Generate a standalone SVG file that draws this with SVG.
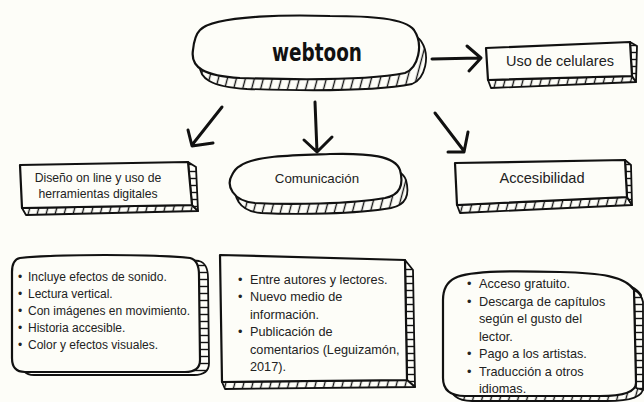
<svg xmlns="http://www.w3.org/2000/svg" width="644" height="402" viewBox="0 0 644 402">
<defs>
<pattern id="hv" width="9" height="20" patternUnits="userSpaceOnUse" patternTransform="skewX(-15)"><rect width="9" height="20" fill="#fdfdf8"/><line x1="4.5" y1="0" x2="4.5" y2="20" stroke="#111" stroke-width="1.4"/></pattern>
<pattern id="hh" width="20" height="7" patternUnits="userSpaceOnUse"><rect width="20" height="7" fill="#fdfdf8"/><line x1="0" y1="3.5" x2="20" y2="3.5" stroke="#111" stroke-width="1.4"/></pattern>
</defs>
<style>
.f{fill:#fdfdf8;stroke:#111;stroke-width:2.2;stroke-linejoin:round}
.bv{fill:url(#hv);stroke:#111;stroke-width:1.8;stroke-linejoin:round}
.bh{fill:url(#hh);stroke:#111;stroke-width:1.8;stroke-linejoin:round}
.t{font-family:"Liberation Sans",Arial,sans-serif;fill:#222}
.a{fill:none;stroke:#111;stroke-width:3;stroke-linecap:round;stroke-linejoin:round}
</style>
<rect width="644" height="402" fill="#fdfdf8"/>

<g id="connectors">
<path class="a" d="M432,59 L479,58 M467,46 L481,58 L469,71"/>
<path class="a" d="M222,107 L192,145 M188,130 L192,146 L213,143"/>
<path class="a" d="M315,102 L317,152 M304,140 L317,152 L332,137"/>
<path class="a" d="M435,113 L464,151 M448,152 L464,152 L468,132"/>
</g>

<g id="webtoon">
<path class="bv" transform="translate(7,11)" d="M200,30 C215,14 300,15 330,16 C370,16 405,18 414,30 C424,45 418,68 405,73 C370,80 300,80 240,78 C205,76 190,68 193,50 C194,40 196,34 200,30 Z"/>
<path class="f" stroke-width="3" d="M200,30 C215,14 300,15 330,16 C370,16 405,18 414,30 C424,45 418,68 405,73 C370,80 300,80 240,78 C205,76 190,68 193,50 C194,40 196,34 200,30 Z"/>
<text x="317" y="61" text-anchor="middle" textLength="90" lengthAdjust="spacingAndGlyphs" style="font-family:'DejaVu Sans Condensed','DejaVu Sans',sans-serif;font-weight:bold;font-size:25px;fill:#111">webtoon</text>
</g>

<g id="uso">
<path class="bv" d="M488,80 L632,76 L636,82 L491,88 Z"/>
<path class="bh" d="M630,42 L637,46 L636,82 L632,76 Z"/>
<path class="f" d="M486,48 L630,42 L632,76 L488,80 Z"/>
<text class="t" x="560" y="66" text-anchor="middle" font-size="14.5">Uso de celulares</text>
</g>

<g id="diseno">
<path class="bv" d="M22,208 L192,205 L198,211 L26,215 Z"/>
<path class="bh" d="M188,162 L196,167 L198,211 L192,205 Z"/>
<path class="f" d="M20,165 L188,162 L192,205 L22,208 Z"/>
<text class="t" x="98" y="181.5" text-anchor="middle" font-size="12.2">Diseño on line y uso de</text>
<text class="t" x="98" y="198" text-anchor="middle" font-size="12.2">herramientas digitales</text>
</g>

<g id="comunicacion">
<path class="bv" transform="translate(6,10)" d="M240,166 C255,155 300,155 330,154 C370,153 395,156 400,170 C404,185 400,195 385,198 C350,204 290,205 255,203 C232,201 226,185 232,175 C234,171 236,168 240,166 Z"/>
<path class="f" stroke-width="2.6" d="M240,166 C255,155 300,155 330,154 C370,153 395,156 400,170 C404,185 400,195 385,198 C350,204 290,205 255,203 C232,201 226,185 232,175 C234,171 236,168 240,166 Z"/>
<text class="t" x="317" y="183" text-anchor="middle" font-size="13.3">Comunicación</text>
</g>

<g id="accesibilidad">
<path class="bv" d="M457,205 L627,197 L632,205 L460,213 Z"/>
<path class="bh" d="M625,160 L631,165 L632,205 L627,197 Z"/>
<path class="f" d="M455,163 L625,160 L627,197 L457,205 Z"/>
<text class="t" x="542" y="183" text-anchor="middle" font-size="14.6">Accesibilidad</text>
</g>

<g id="lista1">
<path class="bh" transform="translate(9,3)" d="M20,258 C60,254 150,254 190,258 C198,260 199,268 199,275 L200,360 C200,368 195,372 185,372 L25,372 C15,372 12,366 12,358 L12,272 C12,264 15,259 20,258 Z"/>
<path class="f" d="M20,258 C60,254 150,254 190,258 C198,260 199,268 199,275 L200,360 C200,368 195,372 185,372 L25,372 C15,372 12,366 12,358 L12,272 C12,264 15,259 20,258 Z"/>
<g class="t" font-size="12">
<text x="18" y="280.5">•</text><text x="28" y="280.5">Incluye efectos de sonido.</text>
<text x="18" y="297.5">•</text><text x="28" y="297.5">Lectura vertical.</text>
<text x="18" y="314.5">•</text><text x="28" y="314.5">Con imágenes en movimiento.</text>
<text x="18" y="331.5">•</text><text x="28" y="331.5">Historia accesible.</text>
<text x="18" y="348.5">•</text><text x="28" y="348.5">Color y efectos visuales.</text>
</g>
</g>

<g id="lista2">
<path class="bh" d="M405,260 L413,270 L415,387 L407,380 Z"/>
<path class="bv" d="M222,382 L407,380 L415,387 L225,389 Z"/>
<path class="f" d="M220,255 L405,260 L407,380 L222,382 Z"/>
<g class="t" font-size="12.7">
<text x="238" y="283.5">•</text><text x="250" y="283.5">Entre autores y lectores.</text>
<text x="238" y="301">•</text><text x="250" y="301">Nuevo medio de</text>
<text x="250" y="318.5">información.</text>
<text x="238" y="336">•</text><text x="250" y="336">Publicación de</text>
<text x="250" y="353.5">comentarios (Leguizamón,</text>
<text x="250" y="371">2017).</text>
</g>
</g>

<g id="lista3">
<path class="bv" transform="translate(7,5)" d="M455,278 C470,270 520,271 560,272 C600,273 625,276 634,290 L636,383 C636,393 620,396 600,396 L465,396 C448,396 443,388 443,378 L443,300 C443,290 447,282 455,278 Z"/>
<path class="bh" d="M634,290 C638,292 642,296 643,302 L643,390 L636,388 Z"/>
<path class="f" d="M455,278 C470,270 520,271 560,272 C600,273 625,276 634,290 L636,383 C636,393 620,396 600,396 L465,396 C448,396 443,388 443,378 L443,300 C443,290 447,282 455,278 Z"/>
<g class="t" font-size="12.7">
<text x="467" y="287.5">•</text><text x="479" y="287.5">Acceso gratuito.</text>
<text x="467" y="305.5">•</text><text x="479" y="305.5">Descarga de capítulos</text>
<text x="479" y="323">según el gusto del</text>
<text x="479" y="341">lector.</text>
<text x="467" y="358">•</text><text x="479" y="358">Pago a los artistas.</text>
<text x="467" y="375.5">•</text><text x="479" y="375.5">Traducción a otros</text>
<text x="479" y="392.5">idiomas.</text>
</g>
</g>
</svg>
